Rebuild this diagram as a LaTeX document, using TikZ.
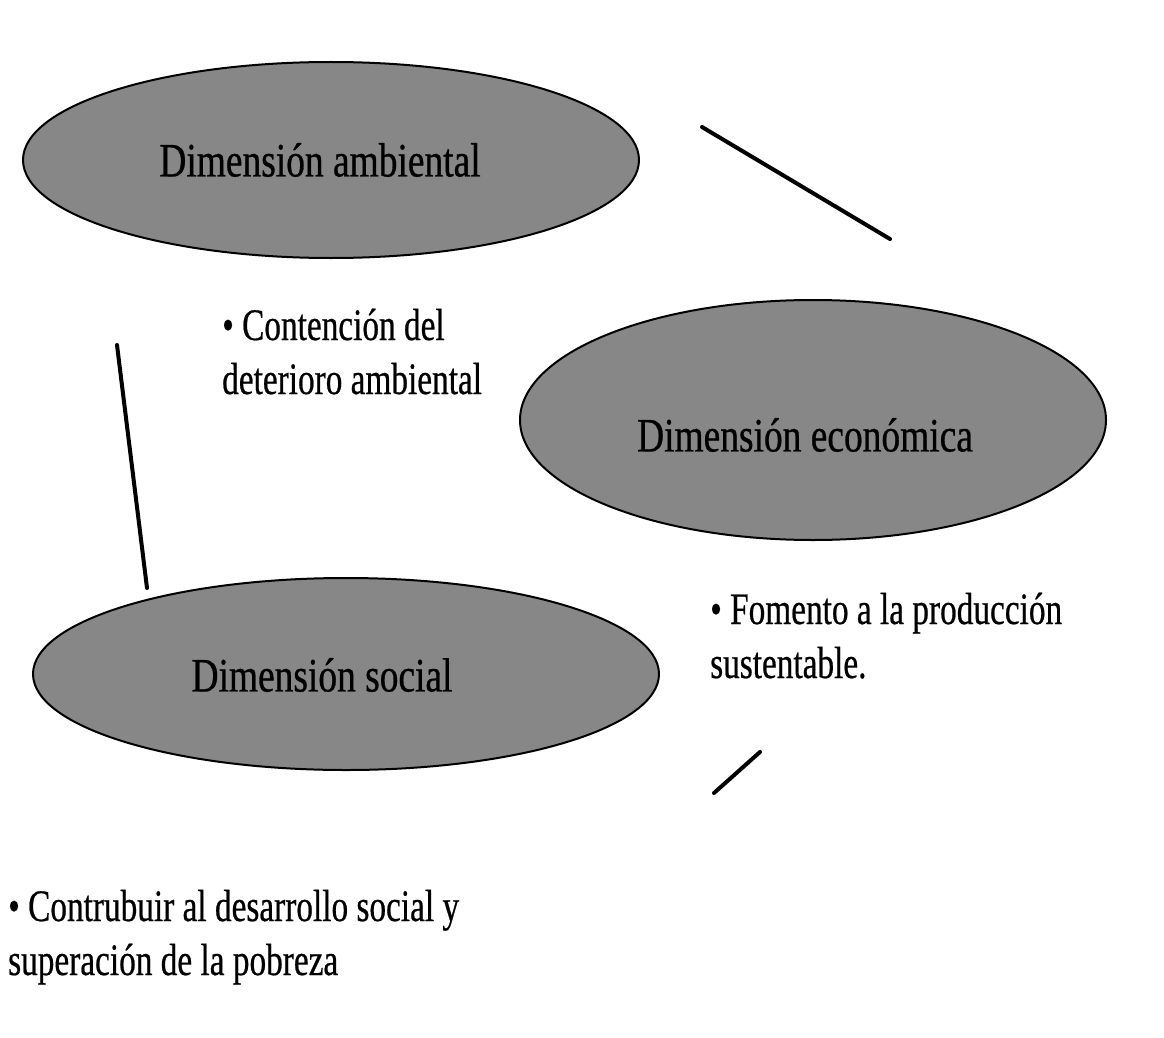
\documentclass[tikz,border=0pt]{standalone}
\usepackage{fontspec}
\setmainfont{Liberation Serif}
\newfontfamily\dimfont[FakeStretch=0.78,FakeBold=0.6]{Liberation Serif}
\newfontfamily\notefont[FakeStretch=0.74,FakeBold=0.5]{Liberation Serif}
\usetikzlibrary{shapes.geometric}
\begin{document}
\begin{tikzpicture}[x=1pt,y=-1pt,
  dimension/.style={ellipse, draw=black, line width=2pt, fill=black!47,
    inner sep=0pt, minimum width=#1},
  dimlabel/.style={font=\dimfont\fontsize{48}{56}\selectfont, inner sep=0pt},
  note/.style={font=\notefont\fontsize{45}{54}\selectfont, align=left,
    inner sep=0pt, anchor=base west},
  link/.style={line width=4pt, line cap=round}]
\useasboundingbox (0,0) rectangle (1164,1038);

% the three dimensions
\node[dimension=616pt, minimum height=196pt] (amb) at (331,160) {};
\node[dimension=586pt, minimum height=240pt] (eco) at (813,420) {};
\node[dimension=626pt, minimum height=192pt] (soc) at (346,674) {};

\node[dimlabel] (ambtxt) at (320,160) {Dimensión ambiental};
\node[dimlabel] (ecotxt) at (805,435) {Dimensión económica};
\node[dimlabel] (soctxt) at (322,675) {Dimensión social};

% goals of each dimension (anchored on the baseline of the last line)
\node[note] (ambnote) at (222,394) {• Contención del\\deterioro ambiental};
\node[note] (econote) at (710,678) {• Fomento a la producción\\sustentable.};
\node[note] (socnote) at (8,975) {• Contrubuir al desarrollo social y\\superación de la pobreza};

% loose connecting strokes
\coordinate (a1) at (702,127);
\coordinate (a2) at (890,239);
\coordinate (b1) at (117,345);
\coordinate (b2) at (147,588);
\coordinate (c1) at (714,793);
\coordinate (c2) at (760,752);
\draw[link] (a1) -- (a2);
\draw[link] (b1) -- (b2);
\draw[link] (c1) -- (c2);
\end{tikzpicture}
\end{document}
